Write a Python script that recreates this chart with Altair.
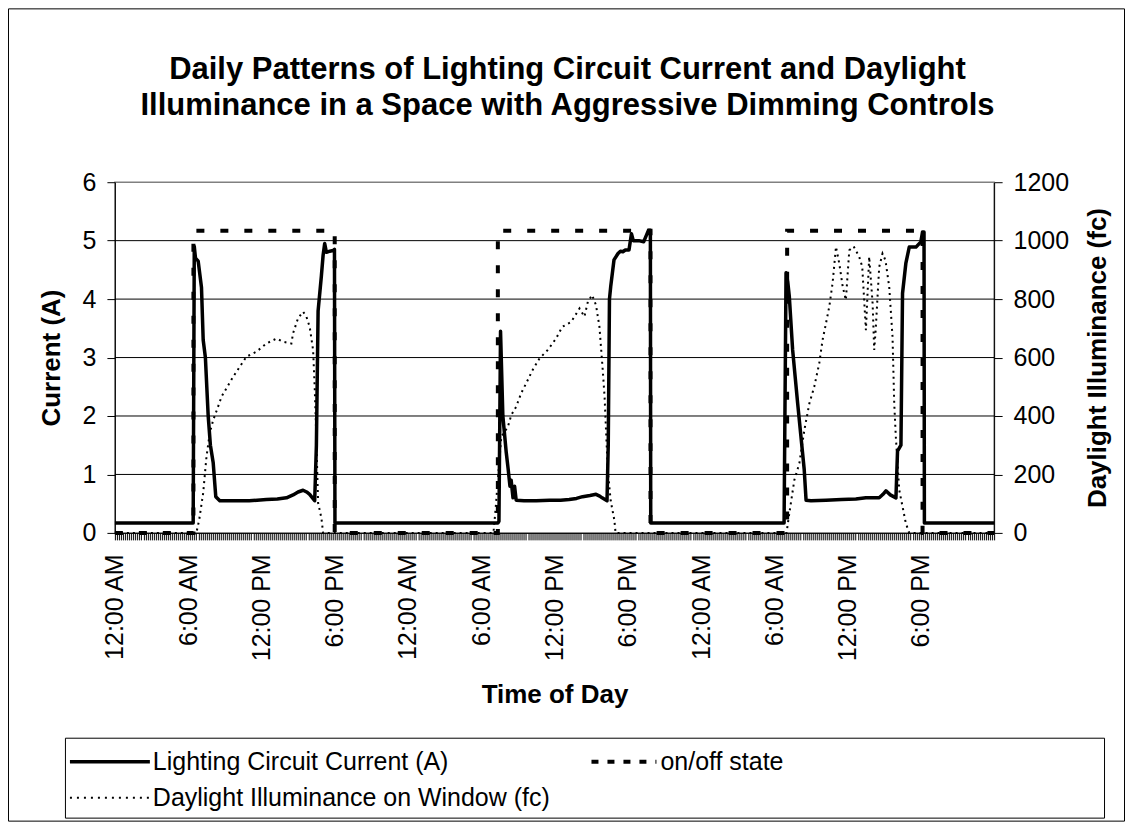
import json
import altair as alt
import pandas as pd

# ---------------- data (hours since midnight of day 1) ----------------
CUR_H = [0, 6.41, 6.5, 6.6, 6.82, 7.09, 7.23, 7.41, 7.64, 7.82, 8.05, 8.26, 8.59, 9.68, 11.0, 12.41, 13.3, 14.05, 14.59, 15.0,
         15.41, 15.7, 15.95, 16.36, 16.5, 16.64, 16.91, 17.05, 17.18, 17.32, 17.6, 17.86, 17.98, 18.02,
         31.36, 31.45, 31.58, 31.77, 32.05, 32.2, 32.35, 32.45, 32.6, 32.73, 32.86, 33.5, 34.5, 35.6, 36.5, 37.2, 37.8, 38.3,
         38.9, 39.4, 39.7, 39.9, 40.3, 40.4, 40.5, 40.6, 40.87, 41.2, 41.4, 41.6, 41.8, 42.1, 42.3, 42.45, 42.9, 43.3, 43.7,
         43.85, 43.88,
         54.8, 54.96, 55.1, 55.23, 55.5, 55.91, 56.18, 56.45, 56.6, 57.0, 58.23, 59.5, 60.68, 61.5, 62.59, 62.9, 63.14, 63.5,
         63.96, 64.09, 64.37, 64.5, 64.77, 65.05, 65.6, 66.0, 66.14, 66.26, 66.29, 72]
CUR_A = [0.17, 0.17, 4.9, 4.7, 4.65, 4.2, 3.3, 3.0, 2.0, 1.5, 1.2, 0.62, 0.55, 0.55, 0.55, 0.57, 0.58, 0.6, 0.65, 0.7,
         0.73, 0.7, 0.66, 0.55, 1.5, 3.8, 4.4, 4.75, 4.95, 4.8, 4.82, 4.83, 4.85, 0.17,
         0.17, 0.2, 3.45, 2.0, 1.37, 1.1, 0.8, 0.9, 0.6, 0.8, 0.56, 0.55, 0.55, 0.56, 0.56, 0.57, 0.59, 0.62,
         0.64, 0.66, 0.63, 0.6, 0.55, 1.5, 4.0, 4.21, 4.67, 4.78, 4.82, 4.81, 4.84, 4.84, 5.12, 5.0, 5.0, 4.98, 5.18,
         5.18, 0.17,
         0.17, 4.45, 4.3, 4.04, 3.13, 2.22, 1.65, 1.08, 0.56, 0.55, 0.56, 0.57, 0.58, 0.6, 0.6, 0.66, 0.72, 0.65,
         0.6, 1.4, 1.5, 4.1, 4.61, 4.89, 4.89, 4.98, 5.15, 5.15, 0.17, 0.17]

STATE_H = [0, 6.43, 6.43, 18.0, 18.0, 31.36, 31.36, 43.86, 43.86, 55.05, 55.05, 66.14, 66.14, 72]
STATE_V = [0, 0, 5.17, 5.17, 0, 0, 5.17, 5.17, 0, 0, 5.17, 5.17, 0, 0]

DAY_H = [0, 6.67, 6.9, 7.23, 7.5, 7.77, 8.05, 8.45, 8.73, 9.68, 10.77, 11.59, 12.41, 13.23, 13.77, 14.45, 14.59, 15.0,
         15.41, 15.68, 15.95, 16.23, 16.36, 16.45, 16.64, 16.91, 17.05,
         31.0, 31.17, 31.64, 32.18, 32.46, 32.86, 33.27, 33.68, 34.2, 34.77, 35.45, 36.14, 36.63, 37.36, 38.05, 38.45,
         38.73, 39.08, 39.4, 39.68, 39.95, 40.1, 40.36, 40.6, 40.9, 41.0,
         55.0, 55.23, 55.64, 56.05, 56.46, 56.87, 57.27, 57.68, 57.95, 58.23, 58.5, 58.77, 59.05, 59.32, 59.6, 59.86,
         60.14, 60.5, 60.95, 61.2, 61.5, 61.77, 62.05, 62.18, 62.3, 62.59, 62.86, 63.1, 63.41, 63.68, 63.82, 63.95,
         64.23, 64.5, 64.77, 65.05, 72]
DAY_FC = [0, 0, 44, 137, 261, 342, 386, 432, 466, 534, 603, 620, 648, 665, 654, 648, 683, 735,
          757, 740, 705, 626, 500, 386, 103, 51, 0,
          0, 79, 329, 363, 403, 432, 478, 512, 557, 597, 626, 666, 705, 722, 768, 740,
          791, 814, 779, 705, 557, 466, 215, 110, 44, 0,
          0, 67, 181, 238, 352, 443, 500, 580, 660, 717, 774, 854, 979, 922, 843, 797,
          967, 980, 945, 911, 694, 945, 785, 626, 694, 910, 956, 933, 842, 671, 443, 329,
          147, 90, 33, 0, 0]

TICK_LABELS = ["12:00 AM", "6:00 AM", "12:00 PM", "6:00 PM"]
CURRENT_TICKS = [0, 1, 2, 3, 4, 5, 6]
DAYLIGHT_TICKS = [0, 200, 400, 600, 800, 1000, 1200]
GRID_LINES = [1, 2, 3, 4, 5]
SERIES = ["Lighting Circuit Current (A)", "on/off state", "Daylight Illuminance on Window (fc)"]
TITLE_LINES = ["Daily Patterns of Lighting Circuit Current and Daylight",
               "Illuminance in a Space with Aggressive Dimming Controls"]

# ---------------- layout ----------------
W, H = 880, 351
PAD_L, PAD_T = 107, 174
TOTAL_W, TOTAL_H = 1118, 814
PAD_R = TOTAL_W - PAD_L - W
PAD_B = TOTAL_H - PAD_T - H
FONT = "Liberation Sans"
TICK_FS = 25
AXT_FS = 26
LEG_FS = 25
TITLE_FS = 31

cur = pd.DataFrame({"h": CUR_H, "a": CUR_A, "i": list(range(len(CUR_H)))})
state = pd.DataFrame({"h": STATE_H, "a": STATE_V, "i": list(range(len(STATE_H)))})
day = pd.DataFrame({"h": DAY_H, "fc": DAY_FC, "i": list(range(len(DAY_H)))})
grid = pd.DataFrame({"a": GRID_LINES})
one = pd.DataFrame({"k": [0]})

tick_vals = [round(i / 6, 4) for i in range(0, 72 * 6 + 1)]
label_expr = ("(abs(datum.value/6 - round(datum.value/6)) < 0.001 && datum.value < 71) ? "
              + json.dumps(TICK_LABELS) + "[round(datum.value/6) % 4] : ''")

x_enc = alt.X(
    "h:Q",
    scale=alt.Scale(domain=[0, 72], nice=False, zero=False),
    axis=alt.Axis(
        values=tick_vals, labelExpr=label_expr, labelAngle=270, labelFontSize=TICK_FS,
        labelOverlap=False, labelFlush=False, labelPadding=14, labelColor="black",
        tickSize=7, tickWidth=1, tickColor="black", domainColor="black", grid=False,
        title="Time of Day", titleFontSize=AXT_FS, titleFontWeight="bold", titleColor="black",
        titleY=162, titleBaseline="middle",
    ),
)

y_left = alt.Y(
    "a:Q",
    scale=alt.Scale(domain=[0, 6], nice=False),
    axis=alt.Axis(
        values=CURRENT_TICKS, format="d", labelFontSize=TICK_FS, labelPadding=11, labelColor="black",
        tickSize=8, tickColor="black", domainColor="black", grid=False,
        title="Current (A)", titleFontSize=AXT_FS, titleFontWeight="bold", titleColor="black",
        titleAngle=270, titleX=-63, titleY=H / 2, titleBaseline="middle", titleAlign="center",
    ),
)

y_right = alt.Y(
    "fc:Q",
    scale=alt.Scale(domain=[0, 1200], nice=False),
    axis=alt.Axis(
        orient="right", values=DAYLIGHT_TICKS, format="d", labelFontSize=TICK_FS, labelPadding=11,
        labelColor="black", tickSize=8, tickColor="black", domainColor="black", grid=False,
        title="Daylight Illuminance (fc)", titleFontSize=AXT_FS, titleFontWeight="bold", titleColor="black",
        titleAngle=270, titleX=103, titleY=H / 2, titleBaseline="middle", titleAlign="center",
    ),
)

# decorations: outer chart frame, title, legend box
frame = alt.Chart(one).mark_rect(fillOpacity=0, stroke="black", strokeWidth=1).encode(
    x=alt.value(-PAD_L + 0.5), x2=alt.value(W + PAD_R - 0.5),
    y=alt.value(-PAD_T + 0.5), y2=alt.value(H + PAD_B - 0.5),
)
title1 = alt.Chart(one).mark_text(font=FONT, fontSize=TITLE_FS, fontWeight="bold", align="center",
                                  baseline="middle", color="black").encode(
    x=alt.value(453), y=alt.value(-112), text=alt.value(TITLE_LINES[0]))
title2 = alt.Chart(one).mark_text(font=FONT, fontSize=TITLE_FS, fontWeight="bold", align="center",
                                  baseline="middle", color="black").encode(
    x=alt.value(453), y=alt.value(-76), text=alt.value(TITLE_LINES[1]))

leg_box = alt.Chart(one).mark_rect(fillOpacity=0, stroke="black", strokeWidth=1).encode(
    x=alt.value(-49.5), x2=alt.value(990.5), y=alt.value(556.5), y2=alt.value(636.5))
leg_s1 = alt.Chart(one).mark_rule(color="black", strokeWidth=3.5).encode(
    x=alt.value(-45), x2=alt.value(35), y=alt.value(580))
leg_s2 = alt.Chart(one).mark_rule(color="black", strokeWidth=4, strokeDash=[7, 9]).encode(
    x=alt.value(477), x2=alt.value(542), y=alt.value(580))
leg_s3 = alt.Chart(one).mark_rule(color="black", strokeWidth=2, strokeDash=[2, 5]).encode(
    x=alt.value(-45), x2=alt.value(35), y=alt.value(616))
leg_t1 = alt.Chart(one).mark_text(font=FONT, fontSize=LEG_FS, align="left", baseline="middle", color="black").encode(
    x=alt.value(38), y=alt.value(580), text=alt.value(SERIES[0]))
leg_t2 = alt.Chart(one).mark_text(font=FONT, fontSize=LEG_FS, align="left", baseline="middle", color="black").encode(
    x=alt.value(546), y=alt.value(580), text=alt.value(SERIES[1]))
leg_t3 = alt.Chart(one).mark_text(font=FONT, fontSize=LEG_FS, align="left", baseline="middle", color="black").encode(
    x=alt.value(38), y=alt.value(616), text=alt.value(SERIES[2]))

grid_rules = alt.Chart(grid).mark_rule(color="black", strokeWidth=1).encode(
    y=y_left, x=alt.value(0), x2=alt.value(W))

cur_line = alt.Chart(cur).mark_line(color="black", strokeWidth=3.5, strokeJoin="round").encode(
    x=x_enc, y=y_left, order="i:Q")
state_line = alt.Chart(state).mark_line(color="black", strokeWidth=4, strokeDash=[8, 16]).encode(
    x=x_enc, y=y_left, order="i:Q")
day_line = alt.Chart(day).mark_line(color="black", strokeWidth=2, strokeDash=[2, 4]).encode(
    x=x_enc, y=y_right, order="i:Q")

left = alt.layer(frame, title1, title2, leg_box, leg_s1, leg_s2, leg_s3, leg_t1, leg_t2, leg_t3,
                 grid_rules, state_line, cur_line)

chart = (
    alt.layer(left, day_line)
    .resolve_scale(y="independent")
    .properties(
        width=W, height=H,
        autosize=alt.AutoSizeParams(type="none"),
        padding={"left": PAD_L, "top": PAD_T, "right": PAD_R, "bottom": PAD_B},
        background="white",
    )
    .configure_view(stroke="#808080", strokeWidth=1.5)
    .configure_axis(labelFont=FONT, titleFont=FONT)
)

chart.save("out.html", embed_options={"renderer": "svg", "actions": False})
